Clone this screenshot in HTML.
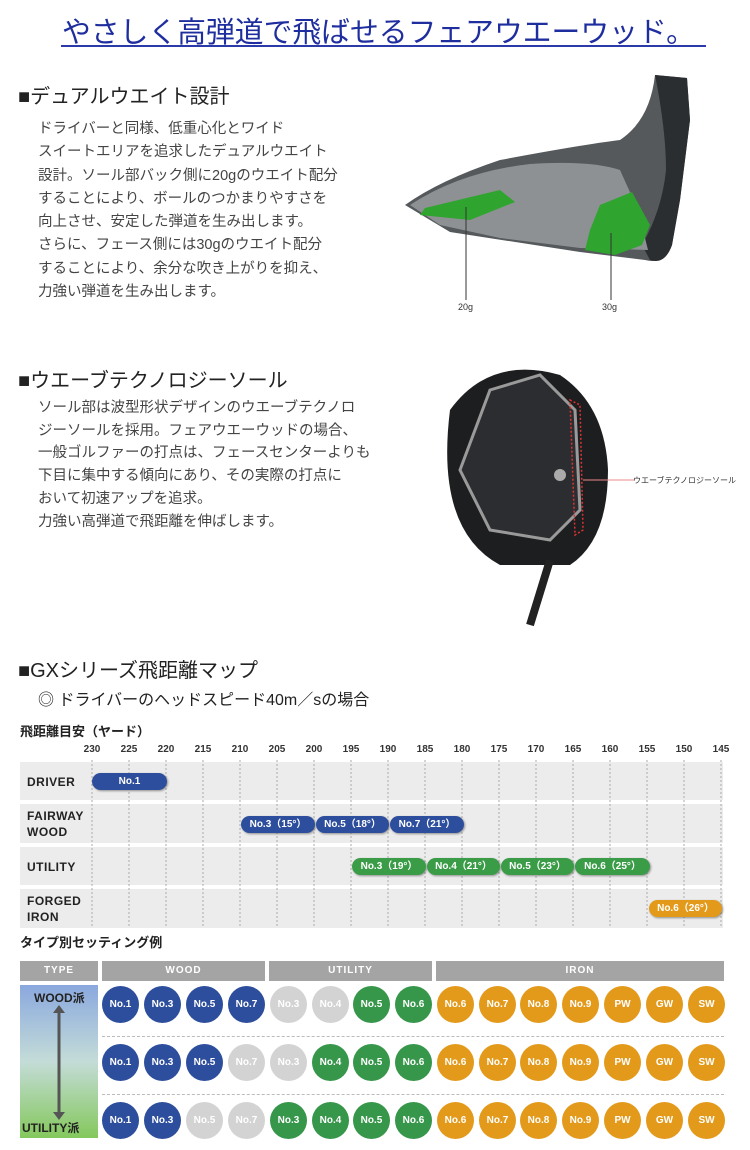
<!DOCTYPE html>
<html><head><meta charset="utf-8"><style>
body{margin:0;width:750px;height:1150px;background:#fff;position:relative;overflow:hidden;font-family:"Liberation Sans","Noto Sans CJK JP",sans-serif;color:#333}
.a{position:absolute;white-space:nowrap}
.h{font-size:20px;color:#222;font-weight:normal}
.b{font-size:14.5px;line-height:23.3px;color:#444}
.ax{font-size:10px;font-weight:bold;color:#333;width:30px;text-align:center;top:744px;font-family:"Liberation Sans Narrow","Liberation Sans",sans-serif}
.rl{font-size:12px;font-weight:bold;color:#222;letter-spacing:.5px;line-height:16px}
.bar{position:absolute;height:17px;border-radius:9px;color:#fff;font-size:10px;font-weight:bold;text-align:center;line-height:17px;box-shadow:1px 1px 2px rgba(0,0,0,.4);font-family:"Liberation Sans Narrow","Liberation Sans","Noto Sans CJK JP",sans-serif}
.bl{background:#2d4e9c}.gr{background:#3a9c47}.or{background:#e39a1b}
.th{position:absolute;top:961px;height:20px;background:#a4a4a4;color:#fff;font-size:10px;font-weight:bold;text-align:center;line-height:20px;letter-spacing:1px}
.c{position:absolute;width:37px;height:37px;border-radius:50%;color:#fff;font-size:10px;font-weight:bold;text-align:center;line-height:37px;font-family:"Liberation Sans Narrow","Liberation Sans",sans-serif}
.B{background:#2d4e9c}.G{background:#36964a}.O{background:#e39a1b}.X{background:#d3d3d3}
</style></head><body>
<div class="a" style="left:62px;top:10px;font-size:28.8px;color:#1f2e9e">やさしく高弾道で飛ばせるフェアウエーウッド。</div>
<div class="a" style="left:61px;top:45px;width:645px;height:2px;background:#2a3aa8"></div>

<div class="a h" style="left:18px;top:80px">■デュアルウエイト設計</div>
<div class="a b" style="left:38px;top:118px">ドライバーと同様、低重心化とワイド<br>スイートエリアを追求したデュアルウエイト<br>設計。ソール部バック側に20gのウエイト配分<br>することにより、ボールのつかまりやすさを<br>向上させ、安定した弾道を生み出します。<br>さらに、フェース側には30gのウエイト配分<br>することにより、余分な吹き上がりを抑え、<br>力強い弾道を生み出します。</div>

<svg class="a" style="left:380px;top:60px" width="370" height="260">
<path d="M275 15 L307 18 L310 60 Q305 100 300 140 L292 185 Q285 205 265 200 L200 192 L70 172 L25 145 Q60 120 120 100 Q200 85 240 80 Q270 60 275 15Z" fill="#55595b"/>
<path d="M275 15 L307 18 L310 60 L300 140 L292 185 Q285 205 270 200 L262 185 Q282 150 286 110 Q286 70 275 15Z" fill="#2a2e30"/>
<path d="M30 145 Q80 112 150 104 Q210 100 240 110 L258 150 L268 190 L200 188 L120 178 L60 165Z" fill="#8d9193"/>
<path d="M45 148 L120 130 L135 142 L90 160 L40 155Z" fill="#2fa42f"/>
<path d="M220 145 L252 132 L270 165 L262 185 L235 195 L205 190 L210 170Z" fill="#2fa42f"/>
<line x1="86" y1="147" x2="86" y2="240" stroke="#333"/>
<line x1="231" y1="173" x2="231" y2="240" stroke="#333"/>
<text x="78" y="250" font-size="9" fill="#333">20g</text>
<text x="222" y="250" font-size="9" fill="#333">30g</text>
</svg>

<div class="a h" style="left:18px;top:364px">■ウエーブテクノロジーソール</div>
<div class="a b" style="left:38px;top:397px;line-height:22.7px">ソール部は波型形状デザインのウエーブテクノロ<br>ジーソールを採用。フェアウエーウッドの場合、<br>一般ゴルファーの打点は、フェースセンターよりも<br>下目に集中する傾向にあり、その実際の打点に<br>おいて初速アップを追求。<br>力強い高弾道で飛距離を伸ばします。</div>

<svg class="a" style="left:430px;top:350px" width="320" height="280">
<path d="M20 60 Q60 5 130 25 Q175 55 178 120 Q178 190 140 215 L70 215 Q5 180 20 60Z" fill="#1d1e20"/>
<path d="M60 40 L110 25 L145 60 L150 160 L120 190 L60 180 L30 120Z" fill="#2c2d30" stroke="#9a9a9a" stroke-width="3"/>
<circle cx="130" cy="125" r="6" fill="#aaa"/>
<path d="M140 50 L150 55 L153 180 L145 185Z" fill="none" stroke="#d33" stroke-width="1.5" stroke-dasharray="2,2"/>
<line x1="120" y1="210" x2="100" y2="275" stroke="#222" stroke-width="8"/>
<line x1="153" y1="130" x2="205" y2="130" stroke="#e88" stroke-width="1"/>
<text x="203" y="133" font-size="8" fill="#333">ウエーブテクノロジーソール</text>
</svg>

<div class="a h" style="left:18px;top:654px">■GXシリーズ飛距離マップ</div>
<div class="a" style="left:38px;top:686px;font-size:16px;color:#222">◎ ドライバーのヘッドスピード40m／sの場合</div>
<div class="a" style="left:20px;top:721px;font-size:13px;font-weight:bold;color:#222">飛距離目安（ヤード）</div>

<div class="a" style="left:20px;top:762px;width:703px;height:38px;background:#ececec"></div>
<div class="a" style="left:20px;top:804px;width:703px;height:39px;background:#ececec"></div>
<div class="a" style="left:20px;top:847px;width:703px;height:38px;background:#ececec"></div>
<div class="a" style="left:20px;top:889px;width:703px;height:39px;background:#ececec"></div>
<svg class="a" style="left:0;top:755px" width="750" height="175">
<g stroke="#aaa" stroke-dasharray="2,2">
<line x1="92" y1="5" x2="92" y2="173"/><line x1="129" y1="5" x2="129" y2="173"/><line x1="166" y1="5" x2="166" y2="173"/><line x1="203" y1="5" x2="203" y2="173"/><line x1="240" y1="5" x2="240" y2="173"/><line x1="277" y1="5" x2="277" y2="173"/><line x1="314" y1="5" x2="314" y2="173"/><line x1="351" y1="5" x2="351" y2="173"/><line x1="388" y1="5" x2="388" y2="173"/><line x1="425" y1="5" x2="425" y2="173"/><line x1="462" y1="5" x2="462" y2="173"/><line x1="499" y1="5" x2="499" y2="173"/><line x1="536" y1="5" x2="536" y2="173"/><line x1="573" y1="5" x2="573" y2="173"/><line x1="610" y1="5" x2="610" y2="173"/><line x1="647" y1="5" x2="647" y2="173"/><line x1="684" y1="5" x2="684" y2="173"/><line x1="721" y1="5" x2="721" y2="173"/>
</g></svg>
<div class="a ax" style="left:77px">230</div><div class="a ax" style="left:114px">225</div><div class="a ax" style="left:151px">220</div><div class="a ax" style="left:188px">215</div><div class="a ax" style="left:225px">210</div><div class="a ax" style="left:262px">205</div><div class="a ax" style="left:299px">200</div><div class="a ax" style="left:336px">195</div><div class="a ax" style="left:373px">190</div><div class="a ax" style="left:410px">185</div><div class="a ax" style="left:447px">180</div><div class="a ax" style="left:484px">175</div><div class="a ax" style="left:521px">170</div><div class="a ax" style="left:558px">165</div><div class="a ax" style="left:595px">160</div><div class="a ax" style="left:632px">155</div><div class="a ax" style="left:669px">150</div><div class="a ax" style="left:706px">145</div>

<div class="a rl" style="left:27px;top:774px">DRIVER</div>
<div class="a rl" style="left:27px;top:808px">FAIRWAY<br>WOOD</div>
<div class="a rl" style="left:27px;top:859px">UTILITY</div>
<div class="a rl" style="left:27px;top:893px">FORGED<br>IRON</div>

<div class="bar bl" style="left:92px;top:773px;width:75px">No.1</div>
<div class="bar bl" style="left:241px;top:816px;width:74px">No.3（15°）</div>
<div class="bar bl" style="left:316px;top:816px;width:73px">No.5（18°）</div>
<div class="bar bl" style="left:390px;top:816px;width:74px">No.7（21°）</div>
<div class="bar gr" style="left:352px;top:858px;width:74px">No.3（19°）</div>
<div class="bar gr" style="left:427px;top:858px;width:73px">No.4（21°）</div>
<div class="bar gr" style="left:501px;top:858px;width:73px">No.5（23°）</div>
<div class="bar gr" style="left:575px;top:858px;width:75px">No.6（25°）</div>
<div class="bar or" style="left:649px;top:900px;width:73px">No.6（26°）</div>

<div class="a" style="left:20px;top:932px;font-size:13px;font-weight:bold;color:#222">タイプ別セッティング例</div>
<div class="th" style="left:20px;width:78px">TYPE</div>
<div class="th" style="left:102px;width:163px">WOOD</div>
<div class="th" style="left:269px;width:163px">UTILITY</div>
<div class="th" style="left:436px;width:288px">IRON</div>
<div class="a" style="left:20px;top:985px;width:78px;height:153px;background:linear-gradient(#8aa8de,#c4dcd8 50%,#84c85c)"></div>
<div class="a" style="left:34px;top:989px;font-size:12px;font-weight:bold;color:#222">WOOD派</div>
<div class="a" style="left:22px;top:1119px;font-size:12px;font-weight:bold;color:#222">UTILITY派</div>
<svg class="a" style="left:52px;top:1005px" width="14" height="115"><line x1="7" y1="6" x2="7" y2="109" stroke="#555" stroke-width="3"/><path d="M1 8 L7 0 L13 8Z M1 107 L7 115 L13 107Z" fill="#555"/></svg>
<div class="a" style="left:102px;top:1036px;width:622px;border-top:1px dashed #bbb"></div>
<div class="a" style="left:102px;top:1094px;width:622px;border-top:1px dashed #bbb"></div>

<div class="c B" style="left:102px;top:986px">No.1</div><div class="c B" style="left:144px;top:986px">No.3</div><div class="c B" style="left:186px;top:986px">No.5</div><div class="c B" style="left:228px;top:986px">No.7</div><div class="c X" style="left:270px;top:986px">No.3</div><div class="c X" style="left:312px;top:986px">No.4</div><div class="c G" style="left:353px;top:986px">No.5</div><div class="c G" style="left:395px;top:986px">No.6</div><div class="c O" style="left:437px;top:986px">No.6</div><div class="c O" style="left:479px;top:986px">No.7</div><div class="c O" style="left:520px;top:986px">No.8</div><div class="c O" style="left:562px;top:986px">No.9</div><div class="c O" style="left:604px;top:986px">PW</div><div class="c O" style="left:646px;top:986px">GW</div><div class="c O" style="left:688px;top:986px">SW</div>
<div class="c B" style="left:102px;top:1044px">No.1</div><div class="c B" style="left:144px;top:1044px">No.3</div><div class="c B" style="left:186px;top:1044px">No.5</div><div class="c X" style="left:228px;top:1044px">No.7</div><div class="c X" style="left:270px;top:1044px">No.3</div><div class="c G" style="left:312px;top:1044px">No.4</div><div class="c G" style="left:353px;top:1044px">No.5</div><div class="c G" style="left:395px;top:1044px">No.6</div><div class="c O" style="left:437px;top:1044px">No.6</div><div class="c O" style="left:479px;top:1044px">No.7</div><div class="c O" style="left:520px;top:1044px">No.8</div><div class="c O" style="left:562px;top:1044px">No.9</div><div class="c O" style="left:604px;top:1044px">PW</div><div class="c O" style="left:646px;top:1044px">GW</div><div class="c O" style="left:688px;top:1044px">SW</div>
<div class="c B" style="left:102px;top:1102px">No.1</div><div class="c B" style="left:144px;top:1102px">No.3</div><div class="c X" style="left:186px;top:1102px">No.5</div><div class="c X" style="left:228px;top:1102px">No.7</div><div class="c G" style="left:270px;top:1102px">No.3</div><div class="c G" style="left:312px;top:1102px">No.4</div><div class="c G" style="left:353px;top:1102px">No.5</div><div class="c G" style="left:395px;top:1102px">No.6</div><div class="c O" style="left:437px;top:1102px">No.6</div><div class="c O" style="left:479px;top:1102px">No.7</div><div class="c O" style="left:520px;top:1102px">No.8</div><div class="c O" style="left:562px;top:1102px">No.9</div><div class="c O" style="left:604px;top:1102px">PW</div><div class="c O" style="left:646px;top:1102px">GW</div><div class="c O" style="left:688px;top:1102px">SW</div>
</body></html>
